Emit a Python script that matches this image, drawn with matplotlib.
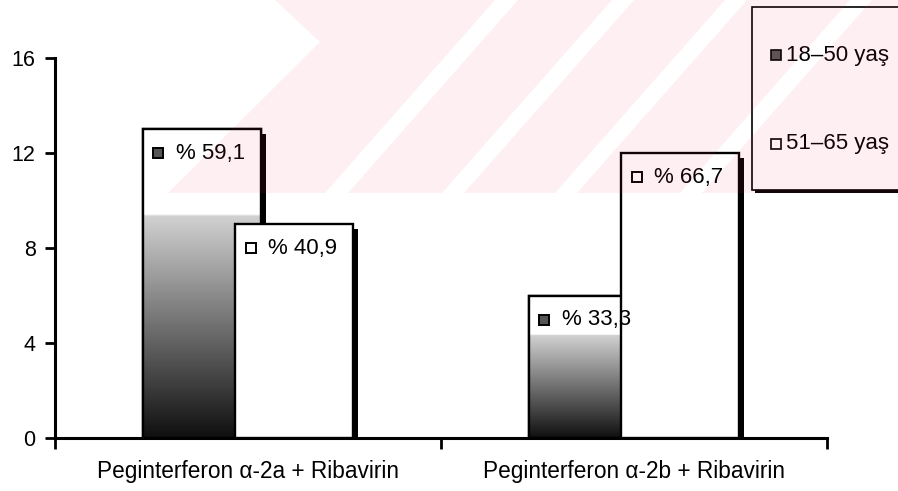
import numpy as np
import matplotlib
matplotlib.use('Agg')
import matplotlib.pyplot as plt
import matplotlib.patheffects as pe
from matplotlib.colors import LinearSegmentedColormap
from matplotlib.patches import Rectangle, Polygon
from matplotlib.transforms import offset_copy

plt.rcParams['font.family'] = ['Liberation Sans', 'DejaVu Sans']

# data
categories = ['Peginterferon α-2a + Ribavirin', 'Peginterferon α-2b + Ribavirin']
series_names = ['18–50 yaş', '51–65 yaş']
counts_18_50 = [13, 6]
counts_51_65 = [9, 12]
pct_18_50 = ['% 59,1', '% 33,3']
pct_51_65 = ['% 40,9', '% 66,7']
yticks = [0, 4, 8, 12, 16]

W, H = 898, 491
fig = plt.figure(figsize=(W / 100, H / 100), dpi=100)
ax = fig.add_axes([55 / W, 1 - 438 / H, (827 - 55) / W, (438 - 58) / H])

x = np.arange(len(categories))
width = 0.305
off = 0.12

# grey fade used for the 18-50 bars (white top, dark bottom)
fade = LinearSegmentedColormap.from_list('fade', [
    (0.0, (0.06, 0.06, 0.06)), (0.15, (0.22, 0.22, 0.22)), (0.4, (0.48, 0.48, 0.48)),
    (0.72, (0.82, 0.82, 0.82)), (0.725, (1, 1, 1)), (1.0, (1, 1, 1))])
grad = np.linspace(0, 1, 256).reshape(-1, 1)

shadow = [pe.SimplePatchShadow(offset=(3.6, -3.6), shadow_rgbFace='black', alpha=1.0), pe.Normal()]

bars1 = ax.bar(x - off, counts_18_50, width, facecolor='white', edgecolor='black',
               linewidth=1.7, zorder=2)
for b in bars1:
    b.set_path_effects(shadow)
    im = ax.imshow(grad, cmap=fade, origin='lower', aspect='auto', zorder=2.2,
                   extent=[b.get_x(), b.get_x() + b.get_width(), 0, b.get_height()])
    im.set_clip_path(b)
ax.bar(x - off, counts_18_50, width, facecolor='none', edgecolor='black',
       linewidth=1.7, zorder=2.4)

bars2 = ax.bar(x + off, counts_51_65, width, facecolor='white', edgecolor='black',
               linewidth=1.7, zorder=3)
for b in bars2:
    b.set_path_effects(shadow)

# labels inside bars: little swatch + percentage
for bars, labels, fc in [(bars1, pct_18_50, '#555555'), (bars2, pct_51_65, 'white')]:
    for b, lab in zip(bars, labels):
        x0, top = b.get_x(), b.get_height()
        tr_m = offset_copy(ax.transData, fig=fig, x=15.5, y=-24, units='dots')
        ax.plot([x0], [top], marker='s', markersize=7.5, markerfacecolor=fc,
                markeredgecolor='black', markeredgewidth=1.4, transform=tr_m,
                zorder=5, clip_on=False)
        tr_t = offset_copy(ax.transData, fig=fig, x=33, y=-24, units='dots')
        ax.text(x0, top, lab, transform=tr_t, fontsize=16, ha='left',
                va='center', zorder=5)

ax.set_xlim(-0.5, 1.5)
ax.set_ylim(0, 16)
ax.set_yticks(yticks)
ax.set_xticks([-0.5, 0.5, 1.5])
ax.set_xticklabels([])
ax.set_xticks(x, minor=True)
ax.set_xticklabels(categories, minor=True)
ax.tick_params(axis='x', which='major', direction='out', length=8, width=2)
ax.tick_params(axis='x', which='minor', length=0, pad=16, labelsize=16.3)
ax.tick_params(axis='y', direction='out', length=7, width=2, pad=7, labelsize=15.5)
for s in ['top', 'right']:
    ax.spines[s].set_visible(False)
for s in ['left', 'bottom']:
    ax.spines[s].set_linewidth(2.2)
ax.patch.set_alpha(0)


def fx(px):
    return px / W


def fy(py):
    return 1 - py / H


# legend box on the right, cut by the figure edge
leg = Rectangle((fx(752), fy(190)), fx(200), fy(7) - fy(190), transform=fig.transFigure,
                facecolor='white', edgecolor='black', linewidth=1.2, zorder=3)
leg.set_path_effects([pe.SimplePatchShadow(offset=(2.5, -2.5), shadow_rgbFace='black',
                                           alpha=1.0), pe.Normal()])
fig.add_artist(leg)
for name, fc, py in [(series_names[0], '#555555', 55), (series_names[1], 'white', 144)]:
    fig.add_artist(Rectangle((fx(771), fy(py + 5)), fx(10), fy(py - 5) - fy(py + 5),
                             transform=fig.transFigure, facecolor=fc,
                             edgecolor='black', linewidth=1.2, zorder=4))
    fig.text(fx(786), fy(py), name, fontsize=16, ha='left', va='center', zorder=4)

# faint pink watermark across the top
bands = [
    [(275, 0), (495, 0), (325, 193), (168, 193), (320, 42)],
    [(518, 0), (612, 0), (442, 193), (348, 193)],
    [(634, 0), (725, 0), (555, 193), (464, 193)],
    [(747, 0), (850, 0), (680, 193), (577, 193)],
    [(872, 0), (898, 0), (898, 193), (702, 193)],
]
for band in bands:
    fig.add_artist(Polygon([(fx(a), fy(b)) for a, b in band], closed=True,
                           transform=fig.transFigure, facecolor='#e63c64',
                           edgecolor='none', alpha=0.08, zorder=10))

fig.savefig('out.png', dpi=100)
